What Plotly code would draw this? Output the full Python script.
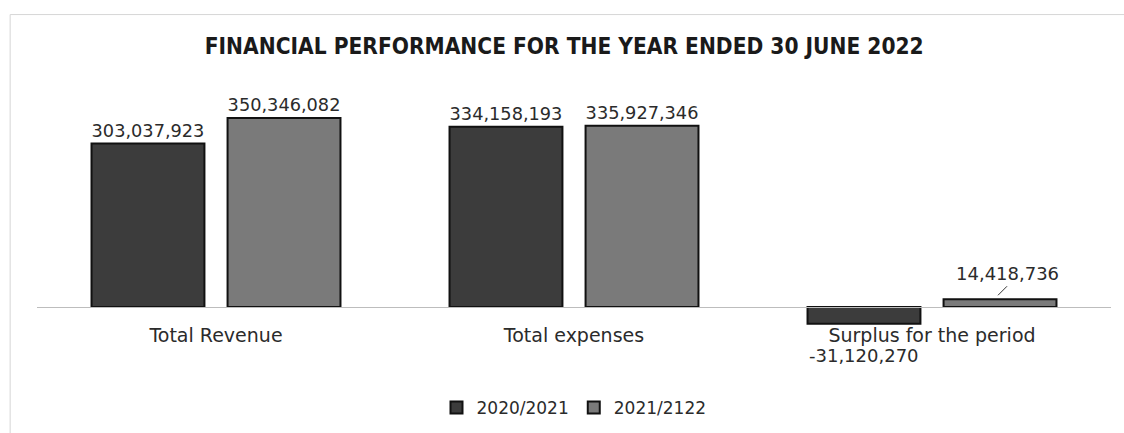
import plotly.graph_objects as go

categories = ["Total Revenue", "Total expenses", "Surplus for the period"]
series_names = ["2020/2021", "2021/2122"]
values_2021 = [303037923, 334158193, -31120270]
values_2122 = [350346082, 335927346, 14418736]

ymin, ymax = -77.8e6, 376.3e6
zero_pos = (0 - ymin) / (ymax - ymin)

label_font = dict(family="DejaVu Sans", size=18, color="#2b2b2b")

def fmt(v):
    return f"{v:,}"

text1 = [fmt(v) for v in values_2021]
text2 = [fmt(v) for v in values_2122]

fig = go.Figure()
fig.add_trace(go.Bar(
    name=series_names[0], x=categories, y=values_2021,
    marker=dict(color="#3c3c3c", line=dict(color="#111111", width=2)),
    text=[t if v >= 0 else "" for t, v in zip(text1, values_2021)], textposition="outside",
    textfont=label_font, cliponaxis=False,
))
fig.add_trace(go.Bar(
    name=series_names[1], x=categories, y=values_2122,
    marker=dict(color="#7a7a7a", line=dict(color="#111111", width=2)),
    text=text2[:-1] + [""], textposition="outside",
    textfont=label_font, cliponaxis=False,
))
# negative label below the bar
fig.add_annotation(
    x=categories[-1], y=values_2021[-1], xref="x", yref="y",
    text=text1[-1], showarrow=False, xshift=-68, yshift=-19, yanchor="top",
    font=label_font,
)
# small positive label with leader line
fig.add_annotation(
    x=categories[-1], y=values_2122[-1], xref="x", yref="y",
    text=text2[-1], showarrow=True, arrowhead=0, arrowwidth=1, arrowcolor="#333333",
    ax=9, ay=-9, xshift=66, yshift=4, yanchor="bottom",
    font=label_font,
)

fig.update_layout(
    width=1124, height=433,
    margin=dict(l=37, r=13, t=104, b=84),
    paper_bgcolor="white", plot_bgcolor="white",
    barmode="group", bargap=0.24, bargroupgap=0.17,
    title=dict(text="<b>FINANCIAL PERFORMANCE FOR THE YEAR ENDED 30 JUNE 2022</b>",
               x=0.502, xanchor="center", y=1 - 46/433, yanchor="middle", yref="container",
               font=dict(family="DejaVu Sans Condensed", size=22.5, color="#1a1a1a")),
    showlegend=True,
    legend=dict(orientation="h", x=0.5, xanchor="center", y=1 - 408/433, yanchor="middle",
                yref="container",
                font=dict(family="DejaVu Sans", size=17, color="#2b2b2b"),
                itemwidth=30, traceorder="normal"),
    xaxis=dict(anchor="free", position=zero_pos, showline=True, linecolor="#bdbdbd", linewidth=1,
               ticks="", tickfont=dict(family="DejaVu Sans", size=19, color="#2b2b2b"),
               showgrid=False, ticklabelstandoff=11, automargin=False),
    yaxis=dict(range=[ymin, ymax], visible=False, showgrid=False, zeroline=False, automargin=False),
    shapes=[
        dict(type="line", xref="paper", yref="paper", x0=-0.025, x1=1.02, y0=1.365, y1=1.365,
             line=dict(color="#d6d6d6", width=1)),
        dict(type="line", xref="paper", yref="paper", x0=-0.025, x1=-0.025, y0=1.365, y1=-0.4,
             line=dict(color="#d6d6d6", width=1)),
    ],
)

fig.write_html("out.html")
